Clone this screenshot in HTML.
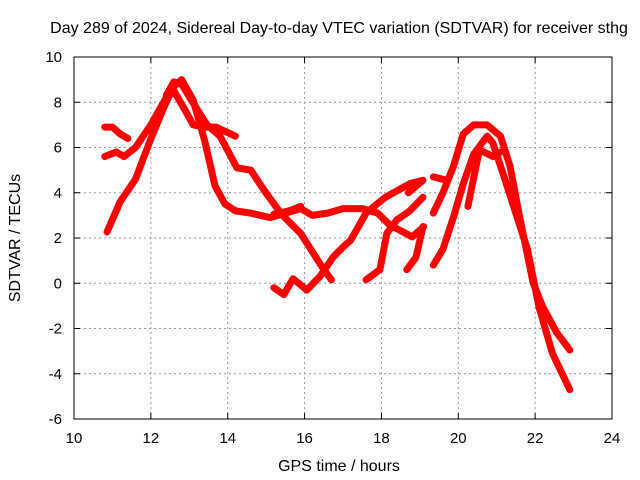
<!DOCTYPE html>
<html><head><meta charset="utf-8"><style>
body{margin:0;background:#fff;}
svg{display:block;font-family:"Liberation Sans",sans-serif;}
</style></head><body>
<svg id="chart" width="640" height="480">
<text x="339" y="33" text-anchor="middle" font-size="16">Day 289 of 2024, Sidereal Day-to-day VTEC variation (SDTVAR) for receiver sthg</text>
<text x="339" y="471" text-anchor="middle" font-size="16">GPS time / hours</text>
<text transform="translate(20,238) rotate(-90)" text-anchor="middle" font-size="16">SDTVAR / TECUs</text>
<g id="grid"></g><g id="series"></g><g id="axes"></g>
</svg>
<script>
const xTicks=[10,12,14,16,18,20,22,24];
const yTicks=[-6,-4,-2,0,2,4,6,8,10];
const track1=[[10.86,2.27],[11.2,3.6],[11.6,4.6],[11.98,6.3],[12.37,7.9],[12.6,8.7],[12.8,9.0],[13.1,8.1],[13.4,6.3],[13.67,4.3],[13.93,3.5],[14.2,3.2],[14.6,3.1],[15.1,2.9],[15.5,3.1],[15.9,3.3],[16.2,3.0],[16.6,3.1],[17.0,3.3],[17.5,3.3],[17.9,3.1],[18.2,2.6],[18.8,2.05],[19.1,2.5]];
const track2=[[10.8,5.6],[11.1,5.8],[11.3,5.6],[11.6,6.0],[12.0,7.0],[12.4,8.2],[12.6,8.5],[12.94,7.5],[13.1,7.0],[13.4,6.9],[13.7,6.9],[14.2,6.5]];
const track3=[[10.8,6.9],[11.0,6.9],[11.2,6.6],[11.4,6.4]];
const track4=[[12.4,8.3],[12.6,8.9],[12.8,8.8],[13.05,8.1],[13.46,7.0],[13.8,6.5],[14.24,5.1],[14.6,5.0],[14.95,4.1],[15.4,3.05],[15.9,2.2],[16.5,0.6],[16.7,0.15]];
const track5=[[15.2,-0.2],[15.46,-0.5],[15.7,0.2],[16.06,-0.3],[16.4,0.3],[16.74,1.15],[17.0,1.6],[17.2,1.9],[17.6,3.1],[18.1,3.8],[18.74,4.4],[19.08,4.55],[18.7,4.0]];
const track6=[[15.2,3.05],[15.6,3.2],[15.9,3.4]];
const track7=[[17.6,0.15],[17.96,0.6],[18.14,2.2],[18.4,2.8],[18.74,3.2],[19.08,3.8]];
const track8=[[18.66,0.6],[18.9,1.15],[19.0,1.9],[19.08,2.5]];
const track9=[[19.35,0.8],[19.6,1.5],[19.87,2.9],[20.13,4.4],[20.4,5.7],[20.75,6.5],[20.9,6.2],[21.25,4.4],[21.8,1.5],[22.1,-1.05],[22.45,-3.1],[22.9,-4.7]];
const track10=[[19.35,3.1],[19.6,4.0],[19.87,5.15],[20.13,6.6],[20.4,7.0],[20.75,7.0],[21.1,6.5],[21.35,5.15],[21.6,2.9],[21.95,0.0],[22.2,-1.05],[22.57,-2.2],[22.9,-2.95]];
const track11=[[19.35,4.7],[19.7,4.55]];
const track12=[[20.25,3.4],[20.55,5.9],[20.9,5.6],[21.1,5.8]];
const tracks=[track1,track2,track3,track4,track5,track6,track7,track8,track9,track10,track11,track12];
const X0=74,X1=612,Y0=419,Y1=57;
const sx=v=>X0+(v-10)/(24-10)*(X1-X0);
const sy=v=>Y0-(v+6)/(10+6)*(Y0-Y1);
const NS='http://www.w3.org/2000/svg';
const mk=(t,a,p)=>{const e=document.createElementNS(NS,t);for(const k in a)e.setAttribute(k,a[k]);p.appendChild(e);return e;};
const grid=document.getElementById('grid'),axes=document.getElementById('axes'),ser=document.getElementById('series');
xTicks.forEach(t=>{
 const x=sx(t);
 if(t>10&&t<24){const g=mk('line',{x1:x,x2:x,y1:Y1,y2:Y0,stroke:'#999','stroke-dasharray':'2,3'},grid);
 
 }
 mk('line',{x1:x,x2:x,y1:Y0,y2:Y0-6,stroke:'#000'},axes);
 mk('line',{x1:x,x2:x,y1:Y1,y2:Y1+6,stroke:'#000'},axes);
 const l=mk('text',{x:x,y:Y0+24,'text-anchor':'middle','font-size':15},axes);l.textContent=t;
 
 
});
yTicks.forEach(t=>{
 const y=sy(t);
 if(t>-6&&t<10){const g=mk('line',{x1:X0,x2:X1,y1:y,y2:y,stroke:'#999','stroke-dasharray':'2,3'},grid);
 
 }
 mk('line',{x1:X0,x2:X0+6,y1:y,y2:y,stroke:'#000'},axes);
 mk('line',{x1:X1,x2:X1-6,y1:y,y2:y,stroke:'#000'},axes);
 const l=mk('text',{x:X0-12,y:y+5,'text-anchor':'end','font-size':15},axes);l.textContent=t;
 
 
});
const b=mk('rect',{x:X0,y:Y1,width:X1-X0,height:Y0-Y1,fill:'none',stroke:'#000'},axes);


tracks.forEach((tr,i)=>{
 const p=mk('polyline',{points:tr.map(d=>sx(d[0])+','+sy(d[1])).join(' '),fill:'none',stroke:'#f00','stroke-width':7,'stroke-linejoin':'round','stroke-linecap':'round'},ser);
 
 
});
</script>
</body></html>
